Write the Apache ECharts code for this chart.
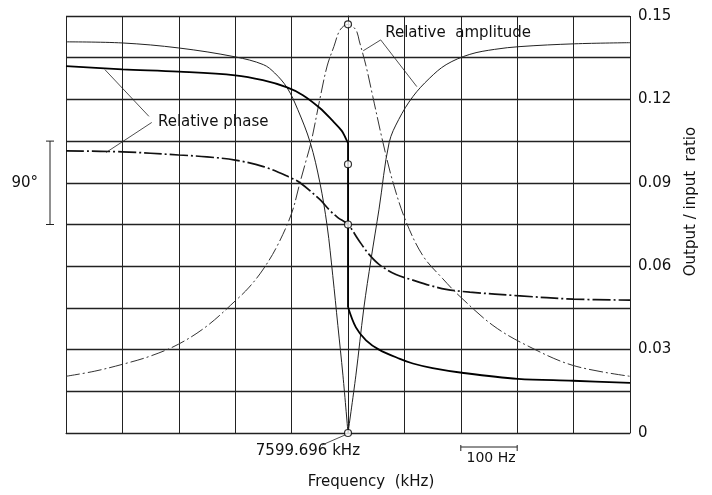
<!DOCTYPE html>
<html>
<head>
<meta charset="utf-8">
<style>
  html, body { margin: 0; padding: 0; width: 100%; height: 100%; overflow: hidden; background: #fff; }
  #chart-wrapper { width: 712px; height: 495px; }
</style>
</head>
<body>
<div id="chart-wrapper"></div>
<script src="https://cdn.jsdelivr.net/npm/echarts@6/dist/echarts.min.js"></script>
<script>
  // x values are offsets in Hz from the resonance at 7599.696 kHz
  const centreLabel = "7599.696 kHz";
  const ratioLabels = ["0", "0.03", "0.06", "0.09", "0.12", "0.15"];

  // resonance peak (relative amplitude, dash-dot)
  const peakHz = [-500, -450, -400, -350, -300, -250, -200, -175, -150, -125, -100, -85, -75, -65, -50, -37, -25, -14, 0,
    14, 20, 32, 44, 62, 80, 103, 133, 168, 197, 257, 317, 399, 500];
  const peakRatio = [0.0204, 0.0222, 0.0247, 0.0277, 0.032, 0.0385, 0.0475, 0.0525, 0.059, 0.0675, 0.079, 0.0902, 0.0975, 0.105, 0.12, 0.132, 0.139, 0.145, 0.147,
    0.145, 0.141, 0.132, 0.121, 0.1045, 0.09, 0.076, 0.0637, 0.0555, 0.0494, 0.0387, 0.0315, 0.0243, 0.0204];

  // notch (relative amplitude, thin solid), two branches meeting at zero
  const notchLeftHz = [-500, -400, -300, -200, -150, -130, -108, -89, -67, -50, -37, -27, -18, -9, 0];
  const notchLeftRatio = [0.1407, 0.1403, 0.1385, 0.1353, 0.1325, 0.1295, 0.1242, 0.1163, 0.1045, 0.0902, 0.0745, 0.0566, 0.0387, 0.0208, 0];
  const notchRightHz = [0, 14, 28, 41, 55, 73, 90, 115, 144, 174, 216, 260, 305, 402, 500];
  const notchRightRatio = [0, 0.0208, 0.0448, 0.0627, 0.0805, 0.1045, 0.1128, 0.121, 0.1275, 0.1325, 0.1362, 0.138, 0.139, 0.14, 0.1404];

  // relative phase, dash-dot (degrees)
  const phaseHz = [-500, -400, -300, -250, -200, -150, -100, -85, -50, -32, -18, 0, 19, 37, 55, 85, 115, 144, 174, 216, 305, 399, 500];
  const phaseDeg = [79.5, 78.4, 75, 73, 69.5, 62.5, 50, 45, 27, 15, 7.5, 0, -17, -32, -43, -54, -60, -65.5, -70, -73, -77, -80.5, -81.6];

  // relative phase, solid with a jump at resonance (degrees)
  const stepLeftHz = [-500, -400, -300, -200, -151, -108, -80, -50, -27, -11, -4, 0];
  const stepLeftDeg = [170.8, 167.5, 165, 161, 155.7, 148, 139.6, 125.7, 111.7, 101, 93, 88];
  const stepRightHz = [0, 14, 32, 55, 92, 115, 150, 202, 301, 399, 500];
  const stepRightDeg = [-89, -111, -125, -135, -145, -150, -155, -160, -166.5, -168.6, -171];

  const amplitudeMarks = [[0, 0.147], [0, 0]];
  const phaseMarks = [[0, 0], [0, 65]];

  const font = '"DejaVu Sans", sans-serif';
  const zip = (xs, ys) => xs.map((x, i) => [x, ys[i]]);

  const chartDom = document.getElementById("chart-wrapper");
  const chart = echarts.init(chartDom, null, { renderer: "canvas" });

  const gridLine = { color: "#222", width: 1 };

  const option = {
    animation: false,
    backgroundColor: "#fff",
    textStyle: { fontFamily: font },
    grid: { left: 66, right: 82, top: 16, bottom: 60 },
    xAxis: {
      type: "value",
      min: -500,
      max: 500,
      interval: 100,
      axisLine: { show: true, lineStyle: gridLine },
      axisTick: { show: false },
      axisLabel: { show: false },
      splitLine: { show: true, lineStyle: gridLine },
      name: "Frequency  (kHz)",
      nameLocation: "middle",
      nameGap: 42,
      nameTextStyle: { fontSize: 15, color: "#111", fontFamily: font, padding: [0, 0, 0, 46] },
    },
    yAxis: [
      {
        type: "value",
        position: "right",
        min: 0,
        max: 0.15,
        interval: 0.015,
        axisLine: { show: true, lineStyle: gridLine },
        axisTick: { show: false },
        axisLabel: {
          fontSize: 15,
          color: "#111",
          margin: 8,
          fontFamily: font,
          formatter: (v) => {
            const i = Math.round(v / 0.015);
            return i % 2 === 0 ? ratioLabels[i / 2] : "";
          },
        },
        splitLine: { show: true, lineStyle: { color: "#222", width: 1.3 } },
        name: "Output / input  ratio",
        nameLocation: "middle",
        nameRotate: 90,
        nameGap: 54,
        nameTextStyle: { fontSize: 15, color: "#111", fontFamily: font, padding: [0, 0, 0, 46] },
      },
      { type: "value", min: -225, max: 225, show: false },
    ],
    series: [
      {
        name: "Relative amplitude",
        type: "line",
        data: zip(peakHz, peakRatio),
        showSymbol: false,
        smooth: 0.35,
        lineStyle: { color: "#333", width: 1, type: [14, 3, 2, 3] },
      },
      {
        name: "notch left",
        type: "line",
        data: zip(notchLeftHz, notchLeftRatio),
        showSymbol: false,
        smooth: 0.35,
        lineStyle: { color: "#222", width: 1 },
      },
      {
        name: "notch right",
        type: "line",
        data: zip(notchRightHz, notchRightRatio),
        showSymbol: false,
        smooth: 0.35,
        lineStyle: { color: "#222", width: 1 },
      },
      {
        name: "Relative phase",
        type: "line",
        yAxisIndex: 1,
        data: zip(phaseHz, phaseDeg),
        showSymbol: false,
        smooth: 0.35,
        lineStyle: { color: "#111", width: 1.7, type: [18, 3, 2, 3] },
      },
      {
        name: "phase step left",
        type: "line",
        yAxisIndex: 1,
        data: zip(stepLeftHz, stepLeftDeg),
        showSymbol: false,
        smooth: 0.35,
        lineStyle: { color: "#000", width: 1.8 },
      },
      {
        name: "phase step jump",
        type: "line",
        yAxisIndex: 1,
        data: [[stepLeftHz.at(-1), stepLeftDeg.at(-1)], [stepRightHz[0], stepRightDeg[0]]],
        showSymbol: false,
        lineStyle: { color: "#000", width: 1.8 },
      },
      {
        name: "phase step right",
        type: "line",
        yAxisIndex: 1,
        data: zip(stepRightHz, stepRightDeg),
        showSymbol: false,
        smooth: 0.35,
        lineStyle: { color: "#000", width: 1.8 },
      },
      {
        type: "scatter",
        data: amplitudeMarks,
        symbol: "circle",
        symbolSize: 7,
        itemStyle: { color: "#fff", borderColor: "#000", borderWidth: 1.2 },
        z: 5,
      },
      {
        type: "scatter",
        yAxisIndex: 1,
        data: phaseMarks,
        symbol: "circle",
        symbolSize: 7,
        itemStyle: { color: "#fff", borderColor: "#000", borderWidth: 1.2 },
        z: 5,
      },
    ],
  };
  chart.setOption(option);

  // annotations placed from data coordinates
  const toPx = (p) => chart.convertToPixel({ xAxisIndex: 0, yAxisIndex: 0 }, p);
  const toPxPhase = (p) => chart.convertToPixel({ xAxisIndex: 0, yAxisIndex: 1 }, p);
  const line = (a, b, w) => ({
    type: "line",
    shape: { x1: a[0], y1: a[1], x2: b[0], y2: b[1] },
    style: { stroke: "#222", lineWidth: w || 0.8 },
    z: 10,
  });
  const text = (p, str, align, size) => ({
    type: "text",
    x: p[0],
    y: p[1],
    style: { text: str, fontSize: size || 15, fontFamily: font, fill: "#111", align: align || "left", verticalAlign: "middle" },
    z: 10,
  });

  const graphics = [];
  // Relative phase label and leaders
  graphics.push(text(toPx([-337, 0.1117]), "Relative phase"));
  graphics.push(line(toPx([-353, 0.1139]), toPx([-431, 0.1307])));
  graphics.push(line(toPx([-348, 0.1117]), toPx([-429, 0.1009])));
  // Relative amplitude label and leaders
  graphics.push(text(toPx([66, 0.1439]), "Relative  amplitude"));
  graphics.push(line(toPx([58, 0.1414]), toPx([27, 0.1375])));
  graphics.push(line(toPx([58, 0.1414]), toPx([122, 0.1246])));

  // 90 degree scale bar
  const p90 = toPxPhase([-500, 90]);
  const p0 = toPxPhase([-500, 0]);
  const bx = p0[0] - 16;
  graphics.push(line([bx, p90[1]], [bx, p0[1]], 1));
  graphics.push(line([bx - 4, p90[1]], [bx + 4, p90[1]], 1));
  graphics.push(line([bx - 4, p0[1]], [bx + 4, p0[1]], 1));
  graphics.push(text([bx - 12, (p90[1] + p0[1]) / 2], "90°", "right"));

  // centre frequency label
  const c0 = toPx([0, 0]);
  graphics.push(text([c0[0] + 12, c0[1] + 18], centreLabel, "right"));
  graphics.push(line([c0[0] - 26, c0[1] + 12], [c0[0] - 3, c0[1] + 2]));

  // 100 Hz scale bar
  const s1 = toPx([200, 0]);
  const s2 = toPx([300, 0]);
  const sy = s1[1] + 14;
  graphics.push(line([s1[0], sy], [s2[0], sy], 1));
  graphics.push(line([s1[0], sy - 2], [s1[0], sy + 4], 1));
  graphics.push(line([s2[0], sy - 2], [s2[0], sy + 4], 1));
  graphics.push(text([(s1[0] + s2[0]) / 2 + 2, sy + 11], "100 Hz", "center", 14));

  chart.setOption({ graphic: graphics });
</script>
</body>
</html>
